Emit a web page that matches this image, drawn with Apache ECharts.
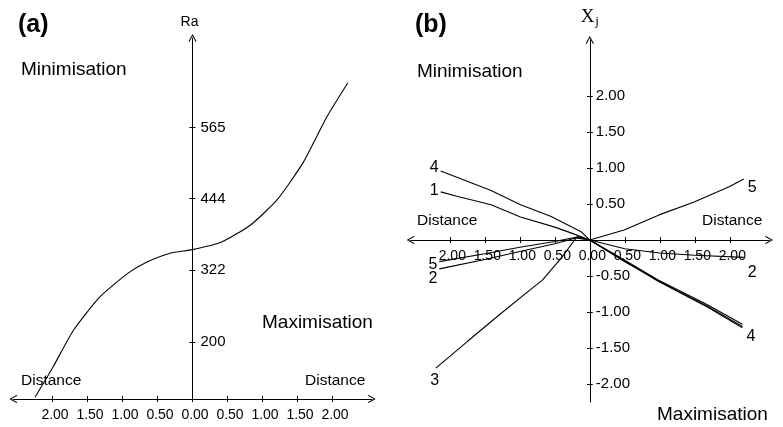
<!DOCTYPE html>
<html>
<head>
<meta charset="utf-8">
<script src="https://cdn.jsdelivr.net/npm/echarts@6/dist/echarts.min.js"></script>
<style>
html, body { margin: 0; padding: 0; background: #fff; }
#main { width: 783px; height: 427px; }
</style>
</head>
<body>
<div id="main"></div>
<script>
// distance ticks shared by both panels (left side = minimisation)
var distTicks = [-2, -1.5, -1, -0.5, 0, 0.5, 1, 1.5, 2];

// (a) Ra response along the path
var raTicks = [200, 322, 444, 565];
var raCurve = [[-2.25, 106], [-1.99, 158], [-1.70, 220], [-1.32, 277], [-0.92, 317], [-0.65, 336],
    [-0.32, 351], [0, 357], [0.40, 369], [0.83, 399], [1.21, 442], [1.58, 505], [1.92, 583], [2.22, 641]];

// (b) factor levels Xj along the path
var xjTicks = [-2, -1.5, -1, -0.5, 0.5, 1, 1.5, 2];
var line1 = [[-2.13, 0.67], [-1.9, 0.61], [-1.41, 0.49], [-0.99, 0.32], [-0.5, 0.18], [-0.27, 0.1], [0, 0],
    [0.5, -0.28], [0.97, -0.55], [1.68, -0.9], [2.18, -1.17]];
var line2 = [[-2.15, -0.4], [-1.5, -0.27], [-1.0, -0.16], [-0.5, -0.05], [-0.2, 0.03], [0, 0],
    [0.5, -0.12], [1.0, -0.18], [1.5, -0.21], [2.2, -0.24]];
var line3 = [[-2.2, -1.78], [-1.75, -1.41], [-1.27, -1.02], [-0.8, -0.65], [-0.68, -0.56], [-0.4, -0.24],
    [-0.18, 0.05], [0, 0], [0.5, -0.3], [0.97, -0.56], [1.68, -0.92], [2.18, -1.2]];
var line4 = [[-2.13, 0.96], [-1.41, 0.69], [-0.99, 0.49], [-0.56, 0.33], [-0.13, 0.12], [0, 0],
    [0.5, -0.29], [0.97, -0.57], [1.68, -0.93], [2.18, -1.22]];
var line5 = [[-2.15, -0.3], [-1.5, -0.19], [-1.0, -0.1], [-0.5, -0.02], [-0.2, 0.04], [0, 0],
    [0.49, 0.14], [0.99, 0.35], [1.49, 0.53], [1.99, 0.74], [2.2, 0.85]];

var ink = '#000';
var sans = "'Liberation Sans', Arial, sans-serif";
var chevron = 'path://M5,0L10,9L9,10L5,2.5L1,10L0,9Z';

function distLabel(v) {
    return Math.abs(v).toFixed(2);
}

// axes are moved onto the zero lines with offset (labels follow the line that way)
function mainX(grid, off) {
    return {
        type: 'value', gridIndex: grid, position: 'bottom', offset: off, min: -2.56, max: 2.56,
        splitLine: { show: false },
        axisLine: { onZero: false, lineStyle: { color: ink, width: 1 },
            symbol: [chevron, chevron], symbolSize: [8, 8] },
        axisTick: { customValues: distTicks, length: 3, lineStyle: { color: ink } },
        axisLabel: { customValues: distTicks, formatter: distLabel, margin: 9, padding: [0, 0, 0, 5],
            color: ink, fontFamily: sans, fontSize: 14 }
    };
}
function tickX(grid, off) {
    return {
        type: 'value', gridIndex: grid, position: 'bottom', offset: off, min: -2.56, max: 2.56,
        splitLine: { show: false },
        axisLine: { show: false, onZero: false },
        axisTick: { customValues: distTicks, inside: true, length: 3, lineStyle: { color: ink } },
        axisLabel: { show: false }
    };
}
function tickY(grid, off, min, max, ticks) {
    return {
        type: 'value', gridIndex: grid, position: 'left', offset: off, min: min, max: max,
        splitLine: { show: false },
        axisLine: { show: false, onZero: false },
        axisTick: { customValues: ticks, inside: true, length: 3, lineStyle: { color: ink } },
        axisLabel: { show: false }
    };
}

var chart = echarts.init(document.getElementById('main'));
chart.setOption({
    animation: false,
    backgroundColor: '#fff',
    grid: [
        { left: 13.3, width: 358.4, top: 38, bottom: 28 },
        { left: 410.6, width: 358.4, top: 40, bottom: 25 }
    ],
    xAxis: [mainX(0, 0), tickX(0, 0), mainX(1, -162), tickX(1, -162)],
    yAxis: [
        {
            type: 'value', gridIndex: 0, position: 'left', offset: -179.2, min: 103, max: 717,
            name: 'Ra', nameLocation: 'end', nameGap: 9,
            nameTextStyle: { color: ink, fontFamily: sans, fontSize: 14, padding: [0, 6, 0, 0] },
            splitLine: { show: false },
            axisLine: { onZero: false, lineStyle: { color: ink, width: 1 },
                symbol: ['none', chevron], symbolSize: [8, 8] },
            axisTick: { customValues: raTicks, length: 3, lineStyle: { color: ink } },
            axisLabel: { customValues: raTicks, inside: true, margin: 8, color: ink, fontFamily: sans, fontSize: 15 }
        },
        tickY(0, -179.2, 103, 717, raTicks),
        {
            type: 'value', gridIndex: 1, position: 'left', offset: -179.2, min: -2.25, max: 2.78,
            name: '{x|X}{j|j}', nameLocation: 'end', nameGap: 12,
            nameTextStyle: { color: ink, rich: {
                x: { fontFamily: "'Liberation Serif', serif", fontSize: 19, color: ink },
                j: { fontFamily: "'Liberation Serif', serif", fontSize: 13, color: ink, padding: [9, 0, 0, 1] }
            } },
            splitLine: { show: false },
            axisLine: { onZero: false, lineStyle: { color: ink, width: 1 },
                symbol: ['none', chevron], symbolSize: [8, 8] },
            axisTick: { customValues: xjTicks, length: 3, lineStyle: { color: ink } },
            axisLabel: { customValues: xjTicks, inside: true, margin: 6, formatter: function (v) { return v.toFixed(2); },
                color: ink, fontFamily: sans, fontSize: 15 }
        },
        tickY(1, -179.2, -2.25, 2.78, xjTicks)
    ],
    graphic: [
        { type: 'text', x: 18, y: 25, style: { text: '(a)', fontFamily: sans, fontSize: 25, fontWeight: 'bold', fill: ink, textVerticalAlign: 'middle' } },
        { type: 'text', x: 21, y: 70, style: { text: 'Minimisation', fontFamily: sans, fontSize: 19, fill: ink, textVerticalAlign: 'middle' } },
        { type: 'text', x: 262, y: 323, style: { text: 'Maximisation', fontFamily: sans, fontSize: 19, fill: ink, textVerticalAlign: 'middle' } },
        { type: 'text', x: 21, y: 381, style: { text: 'Distance', fontFamily: sans, fontSize: 15.5, fill: ink, textVerticalAlign: 'middle' } },
        { type: 'text', x: 305, y: 381, style: { text: 'Distance', fontFamily: sans, fontSize: 15.5, fill: ink, textVerticalAlign: 'middle' } },
        { type: 'text', x: 415, y: 25, style: { text: '(b)', fontFamily: sans, fontSize: 25, fontWeight: 'bold', fill: ink, textVerticalAlign: 'middle' } },
        { type: 'text', x: 417, y: 72, style: { text: 'Minimisation', fontFamily: sans, fontSize: 19, fill: ink, textVerticalAlign: 'middle' } },
        { type: 'text', x: 657, y: 415, style: { text: 'Maximisation', fontFamily: sans, fontSize: 19, fill: ink, textVerticalAlign: 'middle' } },
        { type: 'text', x: 417, y: 221, style: { text: 'Distance', fontFamily: sans, fontSize: 15.5, fill: ink, textVerticalAlign: 'middle' } },
        { type: 'text', x: 702, y: 221, style: { text: 'Distance', fontFamily: sans, fontSize: 15.5, fill: ink, textVerticalAlign: 'middle' } }
    ],
    series: [
        { type: 'line', xAxisIndex: 0, yAxisIndex: 0, data: raCurve, smooth: 0.2, showSymbol: false,
            lineStyle: { color: ink, width: 1.1 } },
        { type: 'line', xAxisIndex: 2, yAxisIndex: 2, data: line1, showSymbol: false, lineStyle: { color: ink, width: 1.1 } },
        { type: 'line', xAxisIndex: 2, yAxisIndex: 2, data: line2, showSymbol: false, lineStyle: { color: ink, width: 1.1 } },
        { type: 'line', xAxisIndex: 2, yAxisIndex: 2, data: line3, showSymbol: false, lineStyle: { color: ink, width: 1.1 } },
        { type: 'line', xAxisIndex: 2, yAxisIndex: 2, data: line4, showSymbol: false, lineStyle: { color: ink, width: 1.1 } },
        { type: 'line', xAxisIndex: 2, yAxisIndex: 2, data: line5, showSymbol: false, lineStyle: { color: ink, width: 1.1 } },
        {
            // line number tags at the path ends
            type: 'scatter', xAxisIndex: 2, yAxisIndex: 2, symbolSize: 0, silent: true,
            itemStyle: { opacity: 1, color: ink },
            label: { show: true, color: ink, fontFamily: sans, fontSize: 16, formatter: '{b}' },
            emphasis: { disabled: true },
            data: [
                { name: '4', value: line4[0], label: { position: 'left', distance: 2, offset: [0, -3] } },
                { name: '1', value: line1[0], label: { position: 'left', distance: 2, offset: [0, -1] } },
                { name: '5', value: line5[0], label: { position: 'left', distance: 2, offset: [0, 3] } },
                { name: '2', value: line2[0], label: { position: 'left', distance: 2, offset: [0, 10] } },
                { name: '3', value: line3[0], label: { position: 'bottom', distance: 4, offset: [-1, 0] } },
                { name: '5', value: line5[line5.length - 1], label: { position: 'right', distance: 4, offset: [0, 9] } },
                { name: '2', value: line2[line2.length - 1], label: { position: 'right', distance: 4, offset: [0, 15] } },
                { name: '4', value: line4[line4.length - 1], label: { position: 'right', distance: 4, offset: [0, 9] } }
            ]
        }
    ]
});
</script>
</body>
</html>
